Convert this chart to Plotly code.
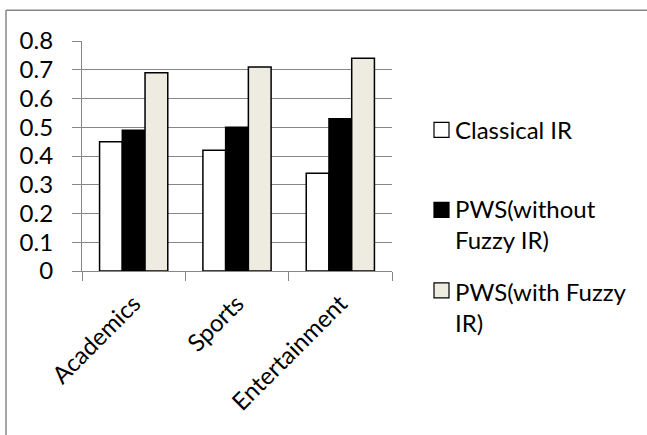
import plotly.graph_objects as go

categories = ["Academics", "Sports", "Entertainment"]
classical_ir = [0.45, 0.42, 0.34]
pws_without = [0.49, 0.50, 0.53]
pws_with = [0.69, 0.71, 0.74]
series_names = ["Classical IR", "PWS(without<br>Fuzzy IR)", "PWS(with Fuzzy<br>IR)"]
y_ticks = [0, 0.1, 0.2, 0.3, 0.4, 0.5, 0.6, 0.7, 0.8]
y_tick_labels = ["0", "0.1", "0.2", "0.3", "0.4", "0.5", "0.6", "0.7", "0.8"]

colors = ["#FFFFFF", "#000000", "#EEECE1"]
FONT = "Lato, Carlito, 'Open Sans', sans-serif"
FS = 24

fig = go.Figure()
for i, (name, vals) in enumerate(zip(series_names, [classical_ir, pws_without, pws_with])):
    fig.add_trace(go.Bar(
        x=categories, y=vals, name=name, showlegend=False, hoverinfo="skip",
        marker=dict(color=colors[i], line=dict(color="#000000", width=1.5)),
    ))

W, H = 647, 435
L, R, T, B = 82, 392, 40.7, 270.7
pw, ph = R - L, B - T

def px(x):
    return (x - L) / pw

def py(y):
    return (B - y) / ph

# legend drawn by hand (entry positions in pixels)
legend_box_centers = [129.5, 209.5, 290]
legend_text_tops = [113, 191.5, 274.5]
shapes = [
    dict(type="line", xref="paper", yref="paper",
         x0=px(6), x1=px(700), y0=py(10), y1=py(10),
         line=dict(color="#878787", width=1.5)),
    dict(type="line", xref="paper", yref="paper",
         x0=px(6), x1=px(6), y0=py(10), y1=py(500),
         line=dict(color="#878787", width=1.5)),
]
annotations = []
for i, name in enumerate(series_names):
    c = legend_box_centers[i]
    shapes.append(dict(type="rect", xref="paper", yref="paper",
                       x0=px(434), x1=px(449), y0=py(c + 7.5), y1=py(c - 7.5),
                       fillcolor=colors[i], line=dict(color="#000000", width=1.2)))
    annotations.append(dict(xref="paper", yref="paper", x=px(453), y=py(legend_text_tops[i]),
                            xanchor="left", yanchor="top", align="left", showarrow=False,
                            text=name, font=dict(family=FONT, size=FS, color="#000000")))

fig.update_layout(
    width=W, height=H,
    margin=dict(l=L, r=W - R, t=T, b=H - B, pad=0),
    paper_bgcolor="white", plot_bgcolor="white",
    font=dict(family=FONT, size=FS, color="#000000"),
    barmode="group", bargap=0.34, bargroupgap=0,
    showlegend=False,
    xaxis=dict(
        showgrid=False, showline=True, linecolor="#868686", linewidth=1.2,
        ticks="outside", ticklen=9, tickcolor="#868686", tickwidth=1.2,
        tickson="boundaries", tickangle=-45, ticklabelstandoff=8,
        tickfont=dict(family=FONT, size=FS, color="#000000"),
    ),
    yaxis=dict(
        range=[0, 0.8], tickvals=y_ticks, ticktext=y_tick_labels,
        showgrid=True, gridcolor="#868686", gridwidth=1.2,
        showline=True, linecolor="#868686", linewidth=1.2,
        ticks="outside", ticklen=9, tickcolor="#868686", tickwidth=1.2,
        ticklabelstandoff=14, zeroline=False,
        tickfont=dict(family=FONT, size=FS, color="#000000"),
    ),
    shapes=shapes,
    annotations=annotations,
)

fig.write_html("out.html", config={"displayModeBar": False},
               post_script="document.body.style.margin='0';document.body.style.overflow='hidden';")
